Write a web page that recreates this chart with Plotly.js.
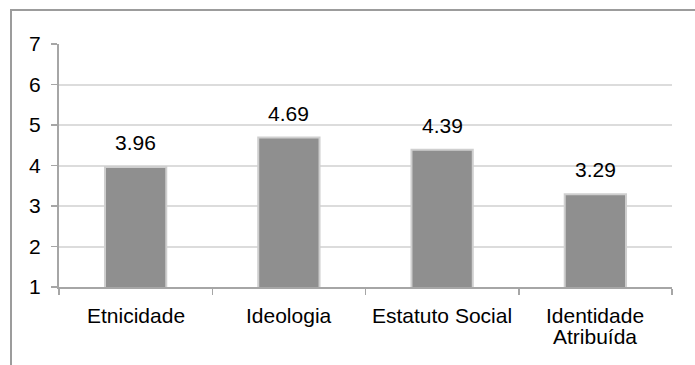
<!DOCTYPE html>
<html>
<head>
<meta charset="utf-8">
<script src="https://cdn.plot.ly/plotly-3.0.1.min.js"></script>
<style>
  html, body { margin: 0; padding: 0; background: #ffffff; }
  #chart { width: 695px; height: 365px; }
</style>
</head>
<body>
<div id="chart"></div>
<script>
// Mean scores per dimension
const categories = ['Etnicidade', 'Ideologia', 'Estatuto Social', 'Identidade Atribuída'];
const categoryLines = [['Etnicidade'], ['Ideologia'], ['Estatuto Social'], ['Identidade', 'Atribuída']];
const values = [3.96, 4.69, 4.39, 3.29];
const yTicks = [1, 2, 3, 4, 5, 6, 7];

const FONT = 'Liberation Sans, Arial, sans-serif';
const FS = 21;

// Plot area in pixels (used to place the outer frame in paper coordinates)
const W = 695, H = 365;
const M = { l: 59, r: 23, t: 44, b: 78 };
const pw = W - M.l - M.r, ph = H - M.t - M.b;
const px = x => (x - M.l) / pw;
const py = y => (H - M.b - y) / ph;

const bars = {
  type: 'bar',
  x: categories,
  y: values,
  base: 0,
  marker: {
    color: '#8f8f8f',
    line: { color: '#cfcfcf', width: 2 }
  },
  hoverinfo: 'skip'
};

// value labels above the bars
const valueLabels = categories.map((c, i) => ({
  x: c,
  y: values[i],
  xref: 'x',
  yref: 'y',
  text: values[i].toFixed(2),
  showarrow: false,
  yanchor: 'bottom',
  yshift: 11,
  font: { family: FONT, size: FS, color: '#000000' }
}));

// category labels under the axis, one annotation per line for tight line spacing
const LINE_STEP = 21;
const categoryLabels = [];
categories.forEach((c, i) => {
  categoryLines[i].forEach((line, k) => {
    categoryLabels.push({
      x: c,
      y: 0,
      xref: 'x',
      yref: 'paper',
      text: line,
      showarrow: false,
      yanchor: 'top',
      yshift: -15 - k * LINE_STEP,
      font: { family: FONT, size: FS, color: '#000000' }
    });
  });
});

const layout = {
  width: W,
  height: H,
  margin: M,
  paper_bgcolor: '#ffffff',
  plot_bgcolor: '#ffffff',
  showlegend: false,
  bargap: 0.6,
  font: { family: FONT, size: FS, color: '#000000' },
  xaxis: {
    type: 'category',
    tickson: 'boundaries',
    ticks: 'outside',
    ticklen: 6,
    tickcolor: '#a6a6a6',
    tickwidth: 1.5,
    showline: true,
    linecolor: '#a6a6a6',
    linewidth: 2,
    showgrid: false,
    showticklabels: false
  },
  yaxis: {
    range: [1, 7],
    tickmode: 'array',
    tickvals: yTicks,
    ticktext: yTicks.map(String),
    ticks: 'outside',
    ticklen: 6,
    tickcolor: '#a6a6a6',
    tickwidth: 1.5,
    showline: true,
    linecolor: '#a6a6a6',
    linewidth: 2,
    showgrid: true,
    gridcolor: '#dcdcdc',
    gridwidth: 2,
    zeroline: false,
    ticklabelstandoff: 6,
    tickfont: { family: FONT, size: FS, color: '#000000' }
  },
  shapes: [{
    type: 'rect',
    xref: 'paper',
    yref: 'paper',
    x0: px(11),
    x1: px(W + 20),
    y0: py(H + 20),
    y1: py(10),
    line: { color: '#9c9c9c', width: 2 },
    layer: 'below'
  }],
  annotations: valueLabels.concat(categoryLabels)
};

Plotly.newPlot('chart', [bars], layout, { displayModeBar: false, staticPlot: true });
</script>
</body>
</html>
